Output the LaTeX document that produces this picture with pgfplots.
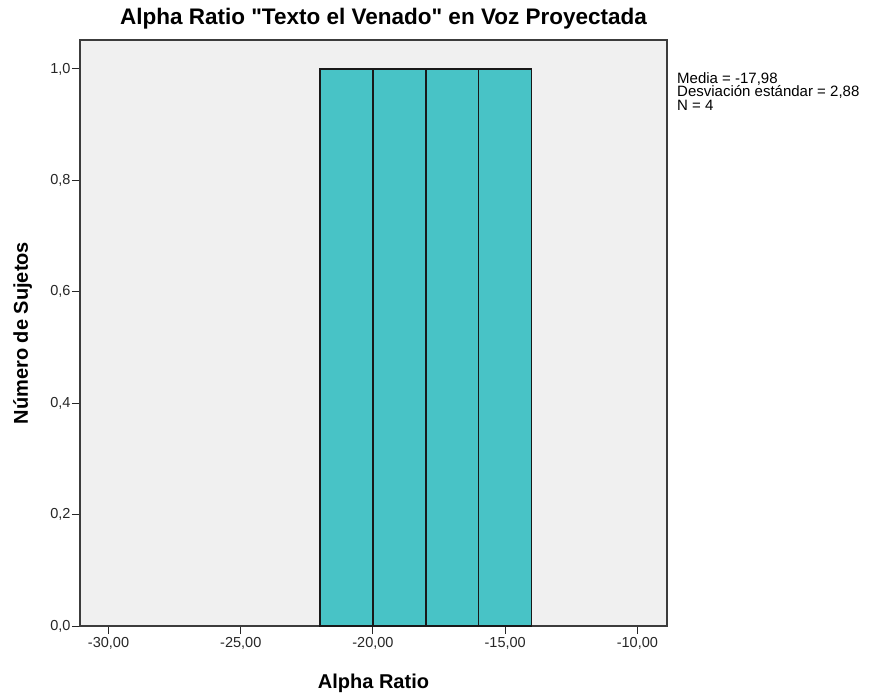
\documentclass[border=0pt]{standalone}
\usepackage{fontspec}
\setmainfont{Liberation Sans}
\usepackage{pgfplots}
\pgfplotsset{compat=1.18}
\definecolor{bgc}{RGB}{240,240,240}
\definecolor{barc}{RGB}{72,195,198}
\definecolor{edgec}{RGB}{25,25,25}
\definecolor{framec}{RGB}{60,60,60}
\begin{document}
\begin{tikzpicture}
\begin{axis}[
  at={(0,0)}, anchor=south west,
  scale only axis, width=587pt, height=586pt,
  xmin=-31.08, xmax=-8.88, ymin=0, ymax=1.052,
  axis background/.style={fill=bgc},
  axis line style={framec, line width=1.2pt},
  xtick={-30,-25,-20,-15,-10},
  ytick={0,0.2,0.4,0.6,0.8,1.0},
  tick align=outside, tick pos=left,
  major tick length=8pt,
  tick style={black!85, line width=1pt},
  ticklabel style={font=\fontsize{14.5}{16}\selectfont, text=black!85},
  xticklabel style={/pgf/number format/.cd, fixed, fixed zerofill, precision=2, use comma, assume math mode=true},
  yticklabel style={xshift=2pt, /pgf/number format/.cd, fixed, fixed zerofill, precision=1, use comma, assume math mode=true},
  scaled ticks=false,
  title={Alpha Ratio \textquotedbl Texto el Venado\textquotedbl\ en Voz Proyectada},
  title style={font=\bfseries\fontsize{22.5}{26}\selectfont, at={(axis description cs:0.517,1)}, anchor=base, yshift=9pt},
  xlabel={Alpha Ratio},
  ylabel={Número de Sujetos},
  label style={font=\bfseries\fontsize{20}{24}\selectfont},
  xlabel style={at={(axis description cs:0.5,-0.1058)}, anchor=base},
  ylabel style={at={(axis description cs:-0.0886,0.5)}, anchor=base},
  clip=false,
]
\addplot[ybar interval, fill=barc, draw=edgec, line width=1.3pt]
  coordinates {(-22,1) (-20,1) (-18,1) (-16,1) (-14,1)};
\node[anchor=north west, align=left, inner sep=0pt, font=\fontsize{15}{13.5}\selectfont]
  at (rel axis cs:1,0.945) [xshift=10pt] {Media = -17,98\\Desviación estándar = 2,88\\N = 4};
\end{axis}
\path[use as bounding box] (-80pt,-66pt) rectangle (790pt,626pt);
\end{tikzpicture}
\end{document}
